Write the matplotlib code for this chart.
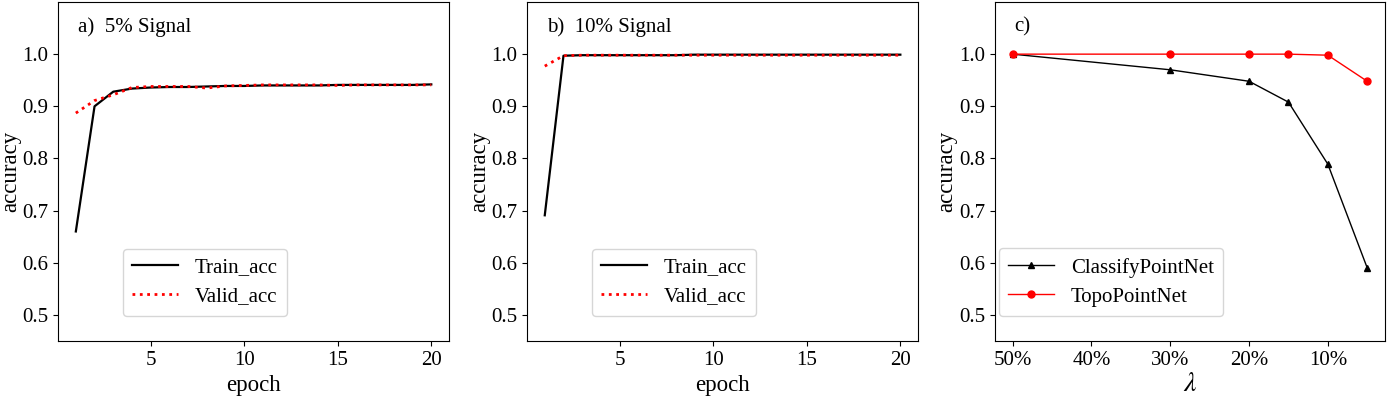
import numpy as np
import matplotlib
matplotlib.use("Agg")
import matplotlib.pyplot as plt
from matplotlib.ticker import FuncFormatter

plt.rcParams.update({
    "font.family": ["Liberation Serif", "DejaVu Serif"],
    "mathtext.fontset": "stix",
    "font.size": 15,
})

epochs = np.arange(1, 21)

train_5 = [0.660, 0.900, 0.928, 0.934, 0.936, 0.937, 0.937, 0.938, 0.939, 0.939,
           0.940, 0.940, 0.940, 0.940, 0.941, 0.941, 0.941, 0.941, 0.941, 0.942]
valid_5 = [0.887, 0.911, 0.922, 0.936, 0.938, 0.938, 0.938, 0.935, 0.939, 0.940,
           0.941, 0.941, 0.941, 0.941, 0.940, 0.941, 0.941, 0.941, 0.941, 0.941]

train_10 = [0.691, 0.997, 0.998, 0.998, 0.998, 0.998, 0.998, 0.998, 0.999, 0.999,
            0.999, 0.999, 0.999, 0.999, 0.999, 0.999, 0.999, 0.999, 0.999, 0.999]
valid_10 = [0.977, 0.997, 0.998, 0.998, 0.998, 0.998, 0.998, 0.998, 0.998, 0.998,
            0.998, 0.998, 0.998, 0.998, 0.998, 0.998, 0.998, 0.998, 0.998, 0.998]

lam = [0.50, 0.30, 0.20, 0.15, 0.10, 0.05]
classify_acc = [1.000, 0.970, 0.948, 0.908, 0.789, 0.590]
topo_acc = [1.000, 1.000, 1.000, 1.000, 0.998, 0.948]

fig = plt.figure(figsize=(13.89, 3.99), dpi=100)
ax_a = fig.add_axes([0.0418, 0.1454, 0.2815, 0.8496])
ax_b = fig.add_axes([0.3794, 0.1454, 0.2816, 0.8496])
ax_c = fig.add_axes([0.7163, 0.1454, 0.2808, 0.8496])

panels = [(ax_a, train_5, valid_5, "a)  5% Signal"),
          (ax_b, train_10, valid_10, "b)  10% Signal")]

for ax, tr, va, title in panels:
    ax.plot(epochs, tr, color="black", lw=1.6, label="Train_acc")
    ax.plot(epochs, va, color="red", lw=2.0, ls=":", label="Valid_acc")
    ax.set_ylim(0.45, 1.1)
    ax.set_yticks([0.5, 0.6, 0.7, 0.8, 0.9, 1.0])
    ax.set_xticks([5, 10, 15, 20])
    ax.set_xlabel("epoch", fontsize=16.5)
    ax.set_ylabel("accuracy", fontsize=16.5, labelpad=1)
    ax.text(0.05, 0.926, title, transform=ax.transAxes, fontsize=15, va="center")
    ax.legend(loc="lower left", bbox_to_anchor=(0.166, 0.074), borderaxespad=0,
              fontsize=15, handlelength=2.2, borderpad=0.45, labelspacing=0.45)

ax_c.plot(lam, classify_acc, color="black", lw=1.0, marker="^", ms=5,
          label="ClassifyPointNet")
ax_c.plot(lam, topo_acc, color="red", lw=1.0, marker="o", ms=5,
          label="TopoPointNet")
ax_c.invert_xaxis()
ax_c.set_ylim(0.45, 1.1)
ax_c.set_yticks([0.5, 0.6, 0.7, 0.8, 0.9, 1.0])
ax_c.set_xticks([0.5, 0.4, 0.3, 0.2, 0.1])
ax_c.xaxis.set_major_formatter(FuncFormatter(lambda v, p: f"{v * 100:.0f}%"))
ax_c.set_xlabel(r"$\lambda$", fontsize=20, labelpad=2)
ax_c.set_ylabel("accuracy", fontsize=16.5, labelpad=1)
ax_c.text(0.05, 0.926, "c)", transform=ax_c.transAxes, fontsize=15, va="center")
ax_c.legend(loc="lower left", bbox_to_anchor=(0.01, 0.074), borderaxespad=0,
            fontsize=15, handlelength=2.2, borderpad=0.45, labelspacing=0.45)

for ax in (ax_a, ax_b, ax_c):
    ax.tick_params(labelsize=15)

fig.savefig("out.png", dpi=100)
